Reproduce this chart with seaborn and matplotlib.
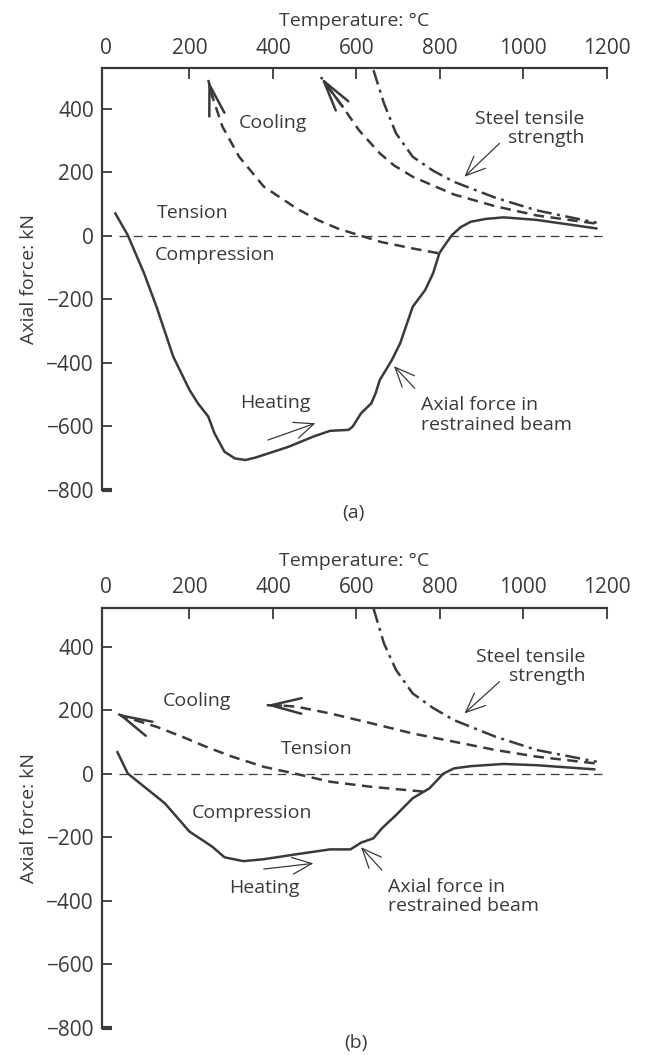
import matplotlib
matplotlib.use("Agg")
import matplotlib.pyplot as plt
import seaborn as sns
import pandas as pd

# ---------------- data ----------------
x_ticks = [0, 200, 400, 600, 800, 1000, 1200]
y_ticks = [-800, -600, -400, -200, 0, 200, 400]
y_tick_labels = ["\u2212800", "\u2212600", "\u2212400", "\u2212200", "0", "200", "400"]

# panel (a)
a_heat_T = [22, 52, 91, 121, 161, 200, 220, 245, 260, 284, 309, 334, 359, 438, 497, 537,
            581, 591, 611, 636, 646, 656, 685, 705, 735, 765, 784, 799, 809, 829, 850, 874, 910, 953, 1032, 1176]
a_heat_F = [71, 2, -118, -224, -381, -486, -528, -570, -623, -681, -702, -707, -699, -665, -633, -615,
            -612, -602, -560, -528, -497, -455, -392, -339, -224, -171, -118, -55, -35, 2, 27, 44, 53, 58, 50, 23]
a_cool1_T = [796, 735, 660, 606, 557, 510, 458, 378, 319, 279, 255, 245]
a_cool1_F = [-55, -40, -20, 2, 22, 48, 85, 155, 249, 344, 438, 491]
a_cool2_T = [1171, 1032, 933, 834, 735, 690, 656, 606, 567, 515]
a_cool2_F = [39, 64, 93, 130, 186, 222, 260, 333, 407, 500]
a_str_T = [641, 666, 695, 735, 784, 834, 933, 1032, 1176]
a_str_F = [522, 418, 323, 249, 205, 170, 120, 80, 41]

# panel (b)
b_heat_T = [27, 52, 141, 200, 230, 255, 284, 329, 378, 458, 537, 586, 611, 641, 661, 695,
            735, 775, 809, 834, 874, 953, 1032, 1171]
b_heat_F = [69, 1, -93, -182, -208, -230, -263, -275, -269, -253, -238, -238, -217, -203, -172, -130,
            -77, -46, 1, 17, 24, 31, 27, 14]
b_cool1_T = [760, 636, 537, 458, 378, 300, 240, 180, 121, 42, 26]
b_cool1_F = [-56, -41, -25, -1, 22, 55, 85, 118, 148, 180, 190]
b_cool2_T = [1171, 1032, 933, 834, 735, 636, 537, 458, 420, 383]
b_cool2_F = [33, 54, 75, 101, 127, 159, 190, 211, 215, 216]
b_str_T = [641, 666, 695, 735, 784, 834, 933, 1032, 1176]
b_str_F = [521, 411, 327, 253, 207, 169, 117, 75, 38]

zero_T = [32, 1190]
zero_F = [0, 0]

# ---------------- style ----------------
sns.set_theme(style="white")
plt.rcParams["font.family"] = ["Open Sans", "DejaVu Sans"]
INK = "#3a3a3a"
plt.rcParams["text.color"] = INK
plt.rcParams["axes.labelcolor"] = INK
plt.rcParams["xtick.color"] = INK
plt.rcParams["ytick.color"] = INK

FS = 14
TFS = 15

fig = plt.figure(figsize=(6.45, 10.55), dpi=100)
ax_a = fig.add_axes([0.1586, 0.536, 0.7820, 0.3993])
ax_b = fig.add_axes([0.1586, 0.0257, 0.7820, 0.3983])


def line(ax, T, F, kind, lw=1.8):
    df = pd.DataFrame({"T": T, "F": F})
    sns.lineplot(data=df, x="T", y="F", ax=ax, color=INK, lw=lw, sort=False,
                 estimator=None, legend=False)
    ln = ax.lines[-1]
    ln.set_solid_joinstyle("round")
    ln.set_dash_joinstyle("round")
    if kind == "dash":
        ln.set_dashes((4.2, 2.6))
    elif kind == "dashdot":
        ln.set_dashes((6.0, 2.2, 1.2, 2.2))
    elif kind == "thin":
        ln.set_dashes((7, 4.5))
    return ln


def end_arrow(ax, T, F):
    ax.annotate("", xy=(T[-1], F[-1]), xytext=(T[-2], F[-2]),
                arrowprops=dict(arrowstyle="->,head_length=1.1,head_width=0.28",
                                lw=1.8, color=INK, shrinkA=0, shrinkB=0,
                                mutation_scale=20))


def pointer(ax, start, tip):
    ax.annotate("", xy=tip, xytext=start,
                arrowprops=dict(arrowstyle="->,head_length=0.7,head_width=0.3",
                                lw=0.9, color=INK, shrinkA=0, shrinkB=0,
                                mutation_scale=20))


def setup(ax, ymax):
    ax.set_xlim(-9, 1200)
    ax.set_ylim(-800, ymax)
    for s in ["right", "bottom"]:
        ax.spines[s].set_visible(False)
    for s in ["left", "top"]:
        ax.spines[s].set_color(INK)
        ax.spines[s].set_linewidth(1.6)
    ax.xaxis.tick_top()
    ax.xaxis.set_label_position("top")
    ax.set_xticks(x_ticks)
    ax.set_yticks(y_ticks)
    ax.set_yticklabels(y_tick_labels)
    ax.tick_params(axis="x", direction="in", length=8, width=1.3, pad=7, labelsize=TFS,
                   top=True, bottom=False)
    ax.tick_params(axis="y", direction="in", length=7, width=1.3, pad=6, labelsize=TFS,
                   left=True, right=False)
    ax.xaxis.get_major_ticks()[0].tick2line.set_visible(False)
    ax.yaxis.get_major_ticks()[0].tick1line.set_markeredgewidth(3)
    ax.set_xlabel("Temperature: \u00b0C", fontsize=FS, labelpad=8)
    ax.set_ylabel("Axial force: kN", fontsize=FS, labelpad=6)
    ax.grid(False)


# ---------------- panel (a) ----------------
setup(ax_a, 528)
line(ax_a, zero_T, zero_F, "thin", lw=0.9)
line(ax_a, a_heat_T, a_heat_F, "solid")
line(ax_a, a_cool1_T, a_cool1_F, "dash")
line(ax_a, a_cool2_T, a_cool2_F, "dash")
line(ax_a, a_str_T, a_str_F, "dashdot")
end_arrow(ax_a, a_cool1_T, a_cool1_F)
end_arrow(ax_a, a_cool2_T, a_cool2_F)

ax_a.text(400, 354, "Cooling", fontsize=FS, ha="center", va="center")
ax_a.text(1015, 339, "Steel tensile\nstrength", fontsize=FS, ha="center", va="center",
          multialignment="right", linespacing=1.1)
pointer(ax_a, (943, 291), (859, 186))
ax_a.text(207, 71, "Tension", fontsize=FS, ha="center", va="center")
ax_a.text(262, -61, "Compression", fontsize=FS, ha="center", va="center")
ax_a.text(406, -528, "Heating", fontsize=FS, ha="center", va="center")
pointer(ax_a, (388, -644), (502, -591))
ax_a.text(755, -565, "Axial force in\nrestrained beam", fontsize=FS, ha="left", va="center",
          linespacing=1.1)
pointer(ax_a, (740, -481), (690, -411))
fig.text(0.5487, 0.5135, "(a)", fontsize=FS, ha="center", va="center")

# ---------------- panel (b) ----------------
setup(ax_b, 523)
line(ax_b, zero_T, zero_F, "thin", lw=0.9)
line(ax_b, b_heat_T, b_heat_F, "solid")
line(ax_b, b_cool1_T, b_cool1_F, "dash")
line(ax_b, b_cool2_T, b_cool2_F, "dash")
line(ax_b, b_str_T, b_str_F, "dashdot")
end_arrow(ax_b, b_cool1_T, b_cool1_F)
end_arrow(ax_b, b_cool2_T, b_cool2_F)

ax_b.text(1017, 337, "Steel tensile\nstrength", fontsize=FS, ha="center", va="center",
          multialignment="right", linespacing=1.1)
pointer(ax_b, (943, 290), (859, 190))
ax_b.text(218, 229, "Cooling", fontsize=FS, ha="center", va="center")
ax_b.text(505, 77, "Tension", fontsize=FS, ha="center", va="center")
ax_b.text(351, -125, "Compression", fontsize=FS, ha="center", va="center")
ax_b.text(380, -361, "Heating", fontsize=FS, ha="center", va="center")
pointer(ax_b, (378, -300), (497, -282))
ax_b.text(676, -386, "Axial force in\nrestrained beam", fontsize=FS, ha="left", va="center",
          linespacing=1.1)
pointer(ax_b, (661, -303), (611, -231))
fig.text(0.552, 0.011, "(b)", fontsize=FS, ha="center", va="center")

fig.savefig("out.png", dpi=100)
